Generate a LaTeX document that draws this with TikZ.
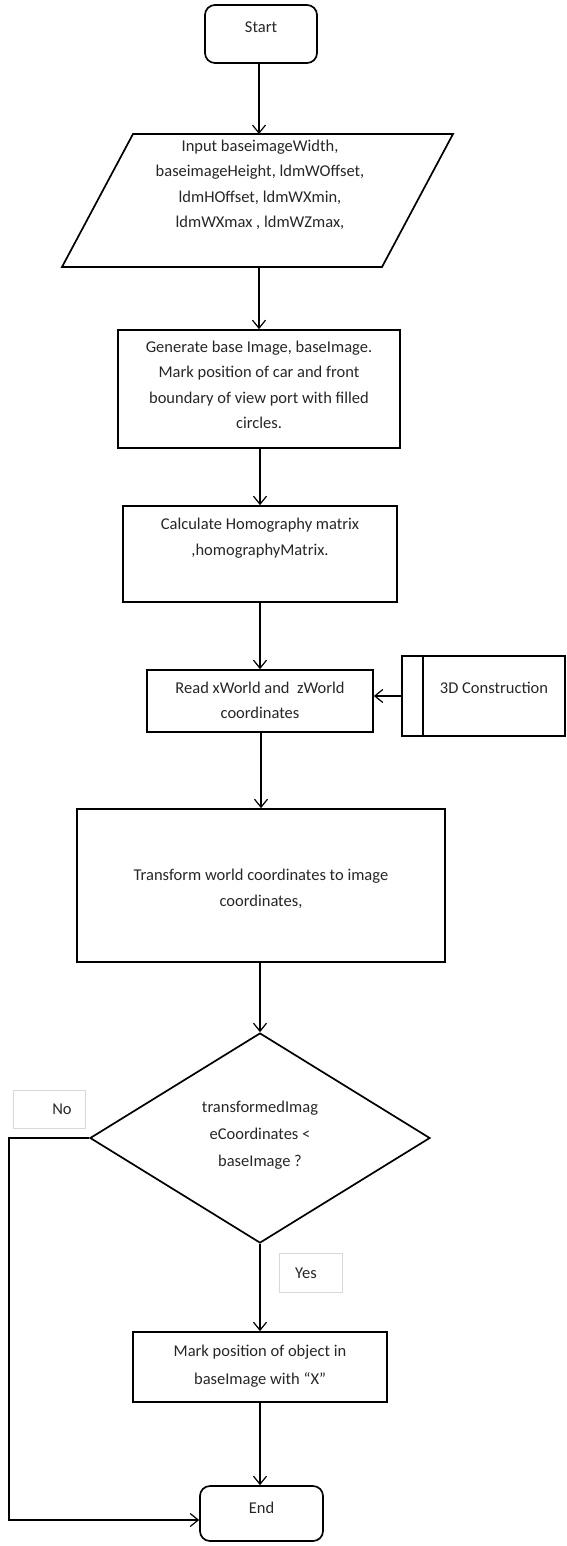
\documentclass[tikz,border=0pt]{standalone}
\usepackage{fontspec}
\setmainfont{Carlito}
\usetikzlibrary{shapes.geometric,arrows.meta}

\begin{document}
\begin{tikzpicture}[x=1pt, y=-1pt,
        box/.style={draw, line width=1.7pt, inner sep=0pt},
        term/.style={box, rounded corners=10pt},
        txt/.style={align=center, text=black!85, font=\fontsize{16.5}{25.5}\selectfont, inner sep=0pt},
        tagbox/.style={draw=black!15, line width=0.8pt, inner sep=0pt},
        flow/.style={line width=1.2pt, -{Straight Barb[length=8pt,width=13pt]}}]

        \useasboundingbox (0,0) rectangle (566,1546);

        % start and input
        \node[term, minimum width=112pt, minimum height=58pt] (start) at (261,34) {};
        \node[txt] (starttxt) at (261,27) {Start};
        \draw[line width=1.7pt] (62,267) -- (382,267) -- (453,134) -- (133,134) -- cycle;
        \coordinate (intop) at (259,134);
        \coordinate (inbot) at (259,267);
        \node[txt] (inputtxt) at (260,185) {Input baseimageWidth,\\baseimageHeight, ldmWOffset,\\ldmHOffset, ldmWXmin,\\ldmWXmax , ldmWZmax,};

        % processing boxes
        \node[box, minimum width=282pt, minimum height=118pt] (genimg) at (259,389) {};
        \node[txt] (genimgtxt) at (259,385) {Generate base Image, baseImage.\\Mark position of car and front\\boundary of view port with filled\\circles.};
        \node[box, minimum width=274pt, minimum height=96pt] (homog) at (260,554) {};
        \node[txt] (homogtxt) at (260,538) {Calculate Homography matrix\\,homographyMatrix.};
        \node[box, minimum width=226pt, minimum height=62pt] (readw) at (260,701) {};
        \node[txt] (readwtxt) at (260,700.5) {Read xWorld and \ zWorld\\coordinates};
        \node[box, minimum width=163pt, minimum height=80pt] (constr) at (483.5,696) {};
        \draw[line width=1.7pt] ([xshift=22pt]constr.north west) -- ([xshift=22pt]constr.south west);
        \node[txt] (constrtxt) at (494,688) {3D Construction};
        \node[box, minimum width=368pt, minimum height=153pt] (transf) at (261,885.5) {};
        \node[txt] (transftxt) at (261,889) {Transform world coordinates to image\\coordinates,};

        % decision
        \node[box, diamond, minimum width=340pt, minimum height=210pt] (test) at (260,1138) {};
        \node[txt, font=\fontsize{16.5}{27}\selectfont] (testtxt) at (260,1135) {transformedImag\\eCoordinates <\\baseImage ?};
        \node[tagbox, minimum width=72pt, minimum height=38pt] (nobox) at (49,1109) {};
        \node[txt] (notxt) at (62,1109) {No};
        \node[tagbox, minimum width=63pt, minimum height=39pt] (yesbox) at (310.5,1272.5) {};
        \node[txt] (yestxt) at (306,1273) {Yes};

        % mark and end
        \node[box, minimum width=254pt, minimum height=70pt] (markx) at (260,1367) {};
        \node[txt, font=\fontsize{16.5}{28}\selectfont] (markxtxt) at (260,1366) {Mark position of object in\\baseImage with “X”};
        \node[term, minimum width=123pt, minimum height=55pt] (end) at (261.5,1513.5) {};
        \node[txt] (endtxt) at (261.5,1508) {End};

        % connectors
        \draw[flow] (start.south -| intop) -- (intop);
        \draw[flow] (inbot) -- (inbot |- genimg.north);
        \draw[flow] (genimg.south -| homog.north) -- (homog.north);
        \draw[flow] (homog.south) -- (readw.north);
        \draw[flow] (constr.west) -- (constr.west -| readw.east);
        \draw[flow] (readw.south -| transf.north) -- (transf.north);
        \draw[flow] (transf.south -| test.north) -- (test.north);
        \draw[flow] (test.south) -- (test.south |- markx.north);
        \draw[flow] (markx.south) -- (markx.south |- end.north);
        \coordinate (nocorner) at (9,1520);
        \draw[flow] (test.west) -| (nocorner) -- (nocorner -| end.west);
\end{tikzpicture}
\end{document}
